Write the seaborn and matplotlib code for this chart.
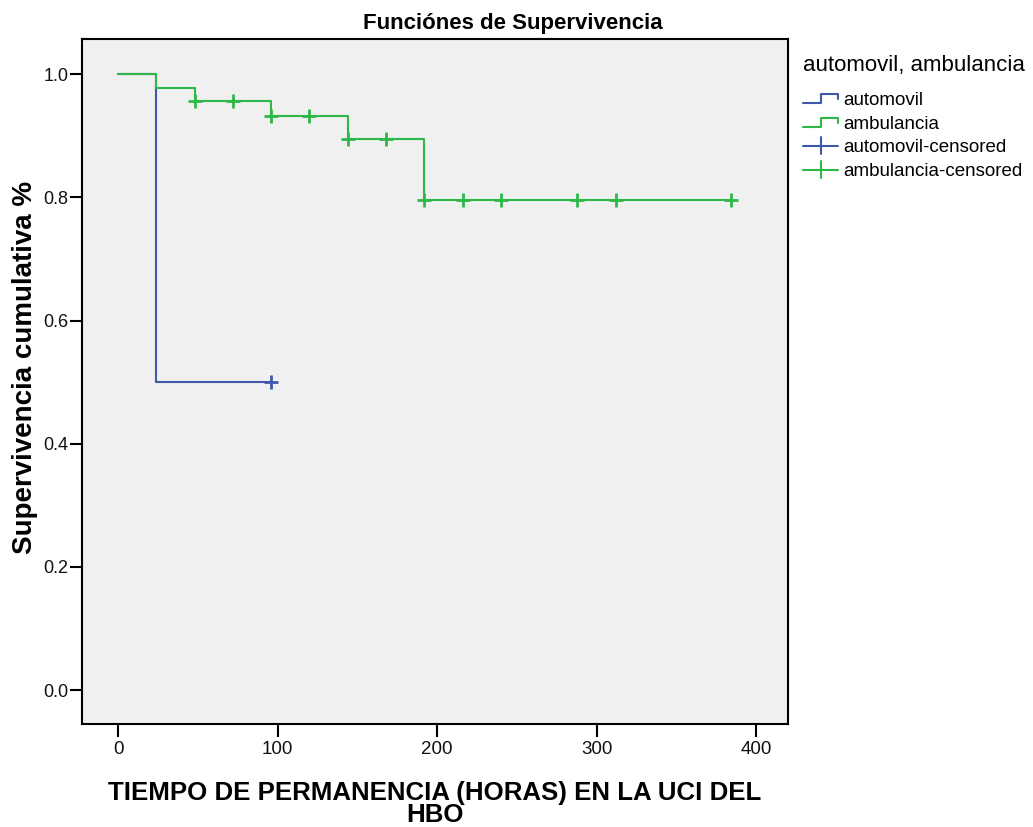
import numpy as np
import pandas as pd
import matplotlib
matplotlib.use("Agg")
import matplotlib.pyplot as plt
from matplotlib.lines import Line2D
from matplotlib.legend_handler import HandlerBase
import seaborn as sns

# Kaplan-Meier step data (hours, cumulative survival)
auto_times = [0, 24, 96]
auto_surv = [1.0, 0.5, 0.5]
amb_times = [0, 24, 48, 96, 144, 192, 384]
amb_surv = [1.0, 0.978, 0.957, 0.932, 0.895, 0.795, 0.795]

# Censored observations (hours)
auto_censored = [96]
amb_censored = [48, 72, 96, 120, 144, 168, 192, 216, 240, 288, 312, 384]

groups = ["automovil", "ambulancia"]
colors = {"automovil": "#3e58ac", "ambulancia": "#2eb848"}
x_ticks = [0, 100, 200, 300, 400]
y_ticks = [0.0, 0.2, 0.4, 0.6, 0.8, 1.0]


def surv_at(times, surv, t):
    idx = np.searchsorted(times, t, side="right") - 1
    return surv[idx]


curves = pd.concat([
    pd.DataFrame({"tiempo": auto_times, "surv": auto_surv, "grupo": "automovil"}),
    pd.DataFrame({"tiempo": amb_times, "surv": amb_surv, "grupo": "ambulancia"}),
], ignore_index=True)

cens = pd.concat([
    pd.DataFrame({"tiempo": auto_censored,
                  "surv": [surv_at(auto_times, auto_surv, t) for t in auto_censored],
                  "grupo": "automovil"}),
    pd.DataFrame({"tiempo": amb_censored,
                  "surv": [surv_at(amb_times, amb_surv, t) for t in amb_censored],
                  "grupo": "ambulancia"}),
], ignore_index=True)

sns.set_theme(style="white")
plt.rcParams["font.family"] = ["Liberation Sans", "DejaVu Sans"]
plt.rcParams.update({"text.color": "black", "axes.labelcolor": "black",
                     "xtick.color": "black", "ytick.color": "black"})

fig = plt.figure(figsize=(10.33, 8.27), dpi=100)
ax = fig.add_axes([0.0794, 0.1245, 0.6834, 0.8283])
ax.set_facecolor("#f0f0f0")

for g in groups:
    sub = curves[curves["grupo"] == g]
    sns.lineplot(data=sub, x="tiempo", y="surv", ax=ax, color=colors[g],
                 drawstyle="steps-post", estimator=None, sort=False,
                 linewidth=1.5, legend=False)
for g in groups:
    sub = cens[cens["grupo"] == g]
    sns.scatterplot(data=sub, x="tiempo", y="surv", ax=ax, color=colors[g],
                    marker="+", s=95, linewidth=2.0, legend=False, zorder=3)

ax.set_xlim(-22.6, 420)
ax.set_ylim(-0.055, 1.057)
ax.set_xticks(x_ticks)
ax.set_xticklabels([str(v) for v in x_ticks])
ax.set_yticks(y_ticks)
ax.set_yticklabels([f"{v:.1f}" for v in y_ticks])
ax.tick_params(axis="both", which="both", direction="out", length=9, width=1.5,
               color="black", labelcolor="#111111", bottom=True, left=True)
ax.tick_params(axis="x", labelsize=13.5, pad=3)
ax.tick_params(axis="y", labelsize=13, pad=1)
for sp in ax.spines.values():
    sp.set_visible(True)
    sp.set_color("black")
    sp.set_linewidth(1.5)

fig.text(0.496, 1 - 24 / 827, "Funciónes de Supervivencia", fontsize=16,
         fontweight="bold", ha="center", va="center")
ax.set_ylabel("Supervivencia cumulativa %", fontsize=20, fontweight="bold")
ax.yaxis.set_label_coords(-0.062, 0.52)
ax.set_xlabel("TIEMPO DE PERMANENCIA (HORAS) EN LA UCI DEL\nHBO", fontsize=18.6,
              fontweight="bold", labelpad=17, linespacing=0.9)


class StepHandler(HandlerBase):
    def create_artists(self, legend, orig_handle, xdescent, ydescent,
                       width, height, fontsize, trans):
        xs = [0, width * 0.5, width * 0.5, width, width]
        ys = [height * 0.15, height * 0.15, height * 0.85, height * 0.85,
              height * 0.45]
        ln = Line2D(xs, ys, color=orig_handle.get_color(), linewidth=1.5,
                    transform=trans)
        return [ln]


class CensHandler(HandlerBase):
    def create_artists(self, legend, orig_handle, xdescent, ydescent,
                       width, height, fontsize, trans):
        c = orig_handle.get_color()
        h = Line2D([0, width], [height * 0.5] * 2, color=c, linewidth=1.5,
                   transform=trans)
        v = Line2D([width * 0.5] * 2, [-height * 0.15, height * 1.15], color=c,
                   linewidth=1.5, transform=trans)
        return [h, v]


step_handles = [Line2D([], [], color=colors[g]) for g in groups]
cens_handles = [Line2D([], [], color=colors[g]) for g in groups]
handler_map = {h: StepHandler() for h in step_handles}
handler_map.update({h: CensHandler() for h in cens_handles})
labels = groups + [f"{g}-censored" for g in groups]

fig.text(803 / 1033, 1 - 66 / 827, "automovil, ambulancia", fontsize=16,
         ha="left", va="center")
leg = fig.legend(step_handles + cens_handles, labels, handler_map=handler_map,
                 loc="upper left", bbox_to_anchor=(803 / 1033, 1 - 92 / 827),
                 frameon=False, fontsize=13.5, handlelength=1.87,
                 handletextpad=0.27, labelspacing=0.35, borderaxespad=0,
                 borderpad=0)

fig.savefig("out.png", dpi=100, facecolor="white")
